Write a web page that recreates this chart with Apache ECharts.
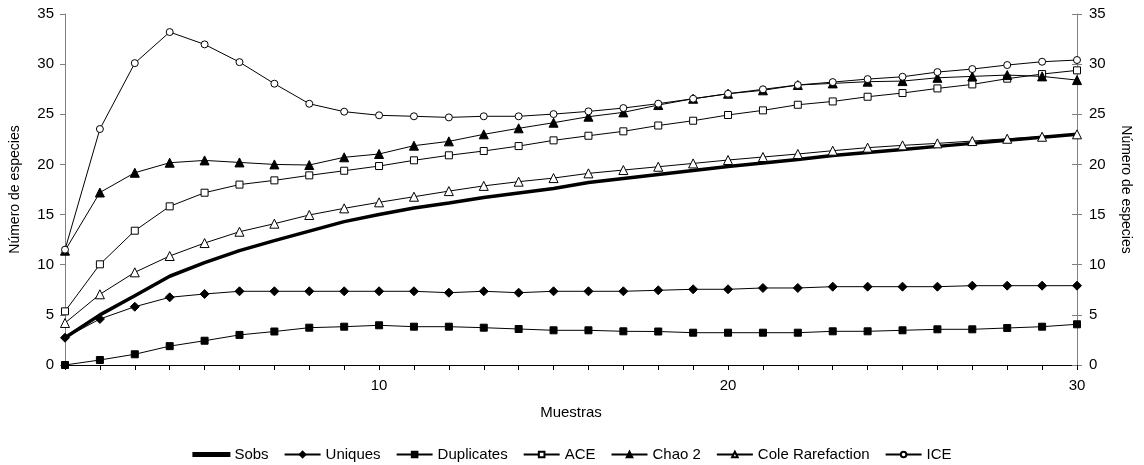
<!DOCTYPE html>
<html>
<head>
<meta charset="utf-8">
<script src="https://cdn.jsdelivr.net/npm/echarts@6/dist/echarts.min.js"></script>
<style>
  html, body { margin: 0; padding: 0; background: #ffffff; }
  #chart { width: 1144px; height: 465px; }
</style>
</head>
<body>
<div id="chart"></div>
<script>
const samples = ['1','2','3','4','5','6','7','8','9','10','11','12','13','14','15','16','17','18','19','20','21','22','23','24','25','26','27','28','29','30'];
const sobs = [2.72, 5.0, 6.9, 8.85, 10.2, 11.4, 12.4, 13.35, 14.3, 15.0, 15.65, 16.15, 16.7, 17.15, 17.6, 18.2, 18.6, 19.0, 19.4, 19.8, 20.15, 20.5, 20.9, 21.2, 21.5, 21.8, 22.1, 22.4, 22.7, 23.0];
const uniques = [2.72, 4.59, 5.81, 6.75, 7.08, 7.35, 7.35, 7.35, 7.35, 7.35, 7.35, 7.21, 7.35, 7.21, 7.35, 7.35, 7.35, 7.45, 7.55, 7.55, 7.68, 7.68, 7.81, 7.81, 7.81, 7.81, 7.91, 7.91, 7.91, 7.91];
const duplicates = [0, 0.5, 1.07, 1.88, 2.42, 3.0, 3.34, 3.72, 3.82, 3.96, 3.82, 3.82, 3.72, 3.59, 3.46, 3.46, 3.36, 3.34, 3.22, 3.22, 3.22, 3.22, 3.36, 3.36, 3.46, 3.56, 3.56, 3.69, 3.82, 4.06];
const ace = [5.35, 10.04, 13.39, 15.82, 17.18, 17.99, 18.41, 18.91, 19.37, 19.84, 20.41, 20.91, 21.34, 21.83, 22.4, 22.86, 23.3, 23.88, 24.36, 24.93, 25.39, 25.95, 26.28, 26.75, 27.12, 27.58, 27.98, 28.55, 29.01, 29.38];
const chao2 = [11.4, 17.2, 19.17, 20.17, 20.4, 20.2, 20.0, 19.94, 20.71, 21.04, 21.87, 22.3, 23.0, 23.6, 24.16, 24.76, 25.19, 25.92, 26.55, 27.05, 27.39, 27.92, 28.08, 28.25, 28.31, 28.64, 28.78, 28.91, 28.78, 28.41];
const cole = [4.19, 7.05, 9.24, 10.87, 12.16, 13.29, 14.09, 14.96, 15.62, 16.22, 16.78, 17.34, 17.86, 18.28, 18.64, 19.11, 19.44, 19.77, 20.1, 20.44, 20.74, 21.04, 21.37, 21.67, 21.9, 22.1, 22.33, 22.56, 22.76, 23.0];
const ice = [11.5, 23.53, 30.1, 33.2, 31.97, 30.2, 28.05, 26.05, 25.26, 24.9, 24.8, 24.69, 24.8, 24.8, 25.02, 25.29, 25.62, 26.06, 26.55, 27.05, 27.49, 27.92, 28.21, 28.51, 28.74, 29.21, 29.51, 29.91, 30.24, 30.41];
const xLabelsShown = ['10', '20', '30'];
const yTicks = { min: 0, max: 35, interval: 5 };

const FONT = 'Liberation Sans, Arial, sans-serif';
const chart = echarts.init(document.getElementById('chart'), null, { renderer: 'canvas' });

function lineSeries(name, data, symbol, size, filled, lw) {
  return {
    name: name,
    type: 'line',
    data: data,
    yAxisIndex: 0,
    symbol: symbol,
    symbolSize: size,
    showSymbol: symbol !== 'none',
    animation: false,
    lineStyle: { color: '#000', width: lw },
    itemStyle: { color: filled ? '#000' : '#fff', borderColor: '#000', borderWidth: 1 },
    emphasis: { disabled: true },
    z: 2
  };
}

const rightAxisBase = {
  type: 'value',
  position: 'right',
  min: yTicks.min, max: yTicks.max, interval: yTicks.interval,
  splitLine: { show: false }
};

chart.setOption({
  backgroundColor: '#ffffff',
  animation: false,
  textStyle: { fontFamily: FONT },
  grid: { left: 61, right: 67, top: 14, bottom: 100, containLabel: false },
  legend: {
    left: 'center',
    top: 442,
    itemWidth: 36,
    itemHeight: 7,
    itemGap: 15,
    textStyle: { fontFamily: FONT, fontSize: 15, color: '#000' },
    data: [
      { name: 'Sobs', icon: 'path://M0,0 L36,0 L36,3 L0,3 Z', itemStyle: { color: '#000' } },
      'Uniques', 'Duplicates', 'ACE', 'Chao 2', 'Cole Rarefaction', 'ICE'
    ]
  },
  xAxis: {
    type: 'category',
    data: samples,
    boundaryGap: false,
    name: 'Muestras',
    nameLocation: 'middle',
    nameGap: 40,
    nameTextStyle: { fontFamily: FONT, fontSize: 15, color: '#000' },
    axisLine: { lineStyle: { color: '#000', width: 1 } },
    axisTick: { show: true, interval: 0, length: 5, lineStyle: { color: '#000' } },
    axisLabel: {
      interval: function (index, value) { return xLabelsShown.indexOf(value) >= 0; },
      margin: 13,
      fontFamily: FONT, fontSize: 15, color: '#000'
    },
    splitLine: { show: false }
  },
  yAxis: [
    {
      type: 'value',
      position: 'left',
      min: yTicks.min, max: yTicks.max, interval: yTicks.interval,
      name: 'Número de especies',
      nameLocation: 'middle',
      nameRotate: 90,
      nameGap: 43,
      nameTextStyle: { fontFamily: FONT, fontSize: 14, color: '#000' },
      axisLine: { show: true, lineStyle: { color: '#808080', width: 1 } },
      axisTick: { show: true, length: 5, lineStyle: { color: '#808080' } },
      axisLabel: { margin: 11, fontFamily: FONT, fontSize: 15, color: '#000' },
      splitLine: { show: false }
    },
    Object.assign({}, rightAxisBase, {
      name: 'Número de especies',
      nameLocation: 'middle',
      nameRotate: -90,
      nameGap: 42,
      nameTextStyle: { fontFamily: FONT, fontSize: 14, color: '#000' },
      axisLine: { show: true, lineStyle: { color: '#808080', width: 1 } },
      axisTick: { show: true, length: 5, lineStyle: { color: '#808080' } },
      axisLabel: { margin: 12, fontFamily: FONT, fontSize: 15, color: '#000' }
    }),
    Object.assign({}, rightAxisBase, {
      axisLine: { show: false },
      axisTick: { show: true, inside: true, length: 5, lineStyle: { color: '#808080' } },
      axisLabel: { show: false }
    })
  ],
  series: [
    lineSeries('Sobs', sobs, 'none', 0, true, 3.5),
    lineSeries('Uniques', uniques, 'diamond', 9, true, 1),
    lineSeries('Duplicates', duplicates, 'rect', 7, true, 1),
    lineSeries('ACE', ace, 'rect', 7, false, 1),
    lineSeries('Chao 2', chao2, 'triangle', 9, true, 1),
    lineSeries('Cole Rarefaction', cole, 'triangle', 9, false, 1),
    lineSeries('ICE', ice, 'circle', 7, false, 1)
  ]
});
</script>
</body>
</html>
